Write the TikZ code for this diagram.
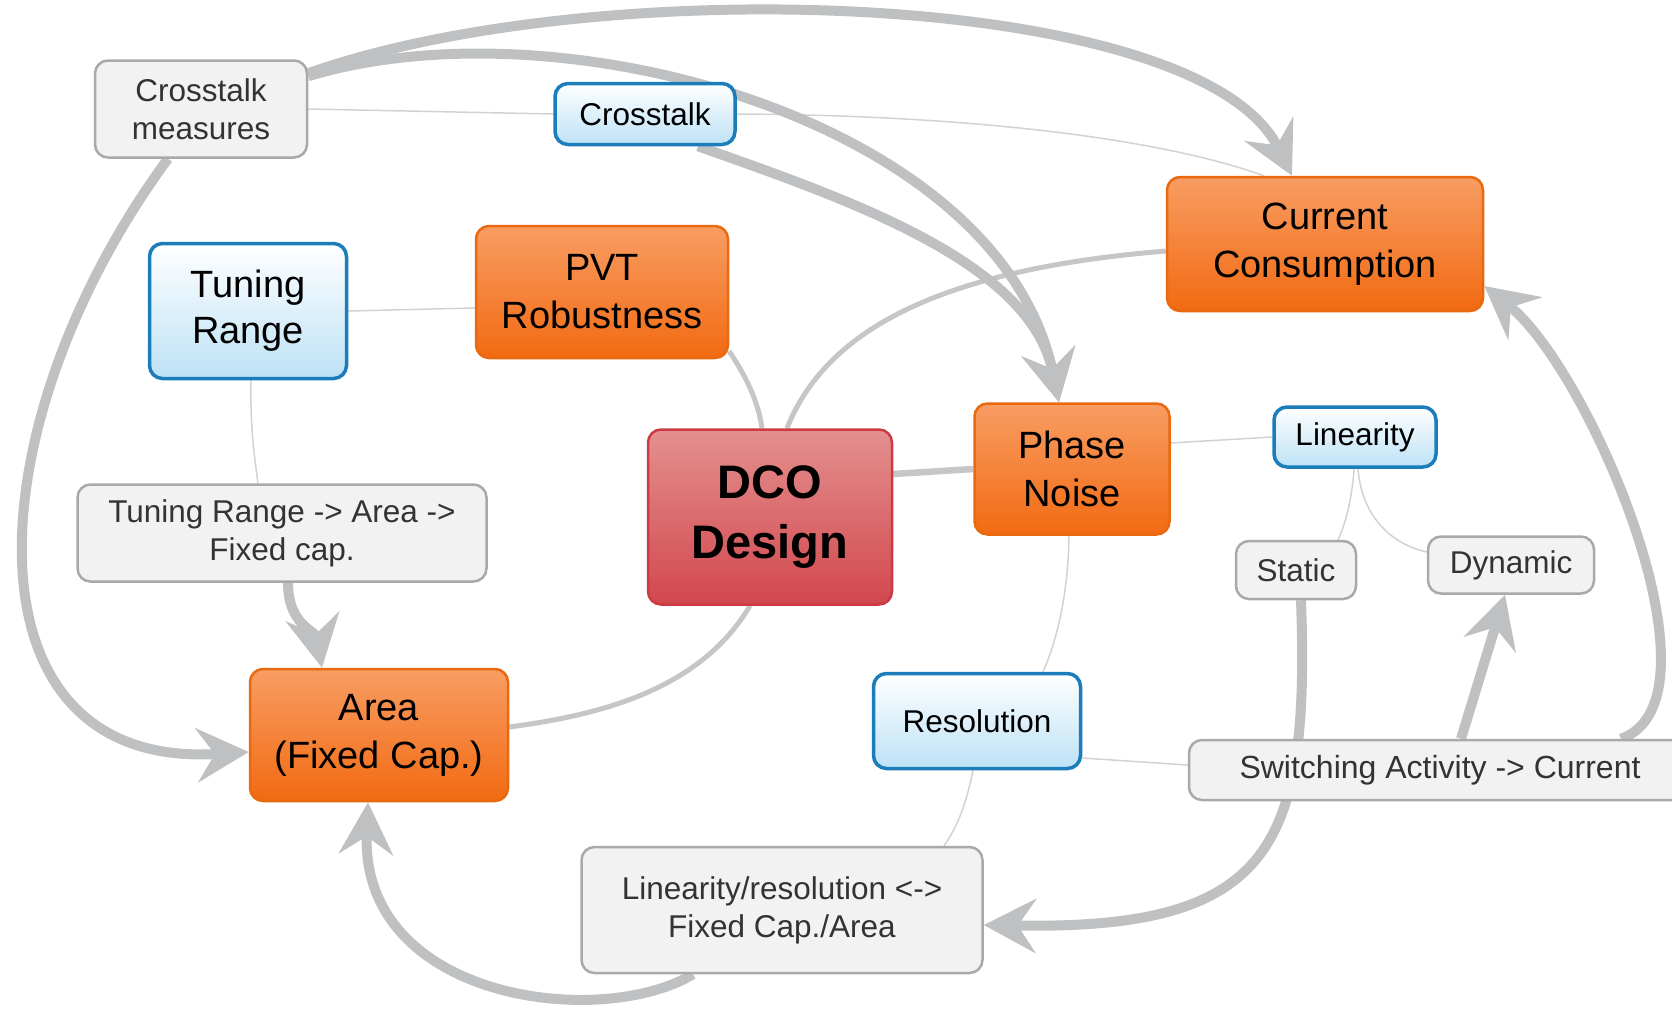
\documentclass[tikz,border=0pt]{standalone}
\usepackage{fontspec}
\setmainfont{Liberation Sans}
\usetikzlibrary{backgrounds,arrows.meta}
\definecolor{orangetop}{HTML}{F89D63}
\definecolor{orangebot}{HTML}{F26A12}
\definecolor{orangeline}{HTML}{E8690F}
\definecolor{redtop}{HTML}{E4908F}
\definecolor{redbot}{HTML}{D2474E}
\definecolor{redline}{HTML}{CC3B44}
\definecolor{bluebot}{HTML}{BDE2F6}
\definecolor{blueline}{HTML}{1B7DBA}
\definecolor{notefill}{HTML}{F2F2F2}
\definecolor{noteline}{HTML}{A9A9A9}
\definecolor{notetext}{HTML}{333333}
\definecolor{relgray}{HTML}{BFC0C2}
\definecolor{branchgray}{HTML}{C6C6C6}
\definecolor{tiegray}{HTML}{D2D2D2}
\tikzset{
  box/.style = {rounded corners=13pt, align=center, inner sep=0pt},
  topic/.style = {box, draw=orangeline, line width=2.5pt, top color=orangetop, bottom color=orangebot, font=\fontsize{38}{48}\selectfont},
  central/.style = {box, draw=redline, line width=2.5pt, top color=redtop, bottom color=redbot, font=\fontsize{47}{60}\selectfont\bfseries},
  sub/.style = {box, draw=blueline, line width=3.5pt, top color=white, bottom color=bluebot, font=\fontsize{31.5}{38}\selectfont},
  note/.style = {box, draw=noteline, line width=2.5pt, fill=notefill, text=notetext, font=\fontsize{31.5}{38}\selectfont},
  tie/.style = {draw=tiegray, line width=1.5pt},
  branch/.style = {draw=branchgray, line width=5pt},
  relation/.style = {draw=relgray, line width=10pt, -{Stealth[length=52pt, width=54pt, inset=18pt]}}
}

\begin{document}
\begin{tikzpicture}[x=1pt,y=-1pt]
  \useasboundingbox (0,0) rectangle (1672,1010);
  \node[note, minimum width=212pt, minimum height=97pt] (cm) at (201,109) {Crosstalk\\measures};
  \node[sub, minimum width=180pt, minimum height=61pt] (xt) at (645,114) {Crosstalk};
  \node[topic, minimum width=316pt, minimum height=134pt] (cc) at (1325,244) {Current\\Consumption};
  \node[sub, font=\fontsize{38}{46}\selectfont, minimum width=197pt, minimum height=135pt] (tr) at (248,311) {Tuning\\Range};
  \node[topic, minimum width=252pt, minimum height=132pt] (pvt) at (602,292) {PVT\\Robustness};
  \node[central, minimum width=244pt, minimum height=175pt] (dco) at (770,517) {DCO\\Design};
  \node[topic, minimum width=195pt, minimum height=131pt] (pn) at (1072,469) {Phase\\Noise};
  \node[sub, minimum width=162pt, minimum height=60pt] (lin) at (1355,437) {Linearity};
  \node[note, minimum width=120pt, minimum height=58pt] (st) at (1296,570) {Static};
  \node[note, minimum width=166pt, minimum height=57pt] (dyn) at (1511,565) {Dynamic};
  \node[note, minimum width=409pt, minimum height=97pt] (tra) at (282,533) {Tuning Range -> Area ->\\Fixed cap.};
  \node[topic, minimum width=258pt, minimum height=132pt] (area) at (379,735) {Area\\(Fixed Cap.)};
  \node[sub, minimum width=207pt, minimum height=95pt] (res) at (977,721) {Resolution};
  \node[note, font=\fontsize{32}{38}\selectfont, minimum width=502pt, minimum height=60pt] (sw) at (1440,770) {Switching Activity -> Current};
  \node[note, minimum width=401pt, minimum height=126pt] (lr) at (782,910) {Linearity/resolution <->\\Fixed Cap./Area};

  \begin{scope}[on background layer]
    \draw[tie] (cm.east) -- (xt.west);
    \draw[tie] (xt.east) .. controls (950,115) and (1150,135) .. ([xshift=-61pt]cc.north);
    \draw[tie] (tr.east) -- ([yshift=-16pt]pvt.west);
    \draw[tie] ([xshift=3pt]tr.south) .. controls (250,430) and (255,460) .. ([xshift=-24pt]tra.north);
    \draw[tie] ([yshift=26pt]pn.east) -- (lin.west);
    \draw[tie] ([xshift=-3pt]pn.south) .. controls (1068,600) and (1055,645) .. ([xshift=66pt]res.north);
    \draw[tie] ([xshift=-1pt]lin.south) .. controls (1352,500) and (1345,525) .. ([xshift=42pt]st.north);
    \draw[tie] ([xshift=3pt]lin.south) .. controls (1362,520) and (1395,545) .. ([yshift=13pt]dyn.west);
    \draw[tie] ([yshift=-37pt]res.east) -- ([yshift=5pt]sw.west);
    \draw[tie] ([xshift=-4pt]res.south) .. controls (965,810) and (955,830) .. ([xshift=162pt]lr.north);

    \draw[branch] ([yshift=8pt]pvt.south east) .. controls (745,375) and (758,400) .. ([xshift=-8pt]dco.north);
    \draw[branch] ([xshift=17pt]dco.north) .. controls (830,320) and (960,268) .. ([yshift=-7pt]cc.west);
    \draw[branch, line width=6.5pt] ([yshift=43pt]dco.east) -- (pn.west);
    \draw[branch] ([xshift=-20pt]dco.south) .. controls (700,690) and (600,715) .. ([yshift=8pt]area.east);

    \draw[relation] ([yshift=-14pt]cm.north east) .. controls (600,-30) and (1200,-10) .. ([xshift=-33pt]cc.north);
    \draw[relation] ([yshift=-17pt]cm.north east) .. controls (560,0) and (1000,120) .. ([xshift=-13pt]pn.north);
    \draw[relation] ([xshift=53pt]xt.south) .. controls (850,200) and (1030,262) .. ([xshift=-13pt]pn.north);
    \draw[relation] ([xshift=-33pt]cm.south) .. controls (-25,420) and (-45,770) .. ([yshift=-17pt]area.west);
    \draw[relation] ([xshift=6pt]tra.south) .. controls (288,625) and (315,630) .. ([xshift=-57pt]area.north);
    \draw[relation] ([xshift=-89pt]lr.south) .. controls (600,1030) and (360,1000) .. ([xshift=-11pt]area.south);
    \draw[relation] ([xshift=5pt]st.south) .. controls (1310,850) and (1270,930) .. ([yshift=-15pt]lr.east);
    \draw[relation] ([xshift=21pt]sw.north) -- ([xshift=-6pt]dyn.south);
    \draw[relation] ([xshift=181pt]sw.north) .. controls (1730,700) and (1590,370) .. ([yshift=-42pt]cc.east);
  \end{scope}
\end{tikzpicture}
\end{document}
